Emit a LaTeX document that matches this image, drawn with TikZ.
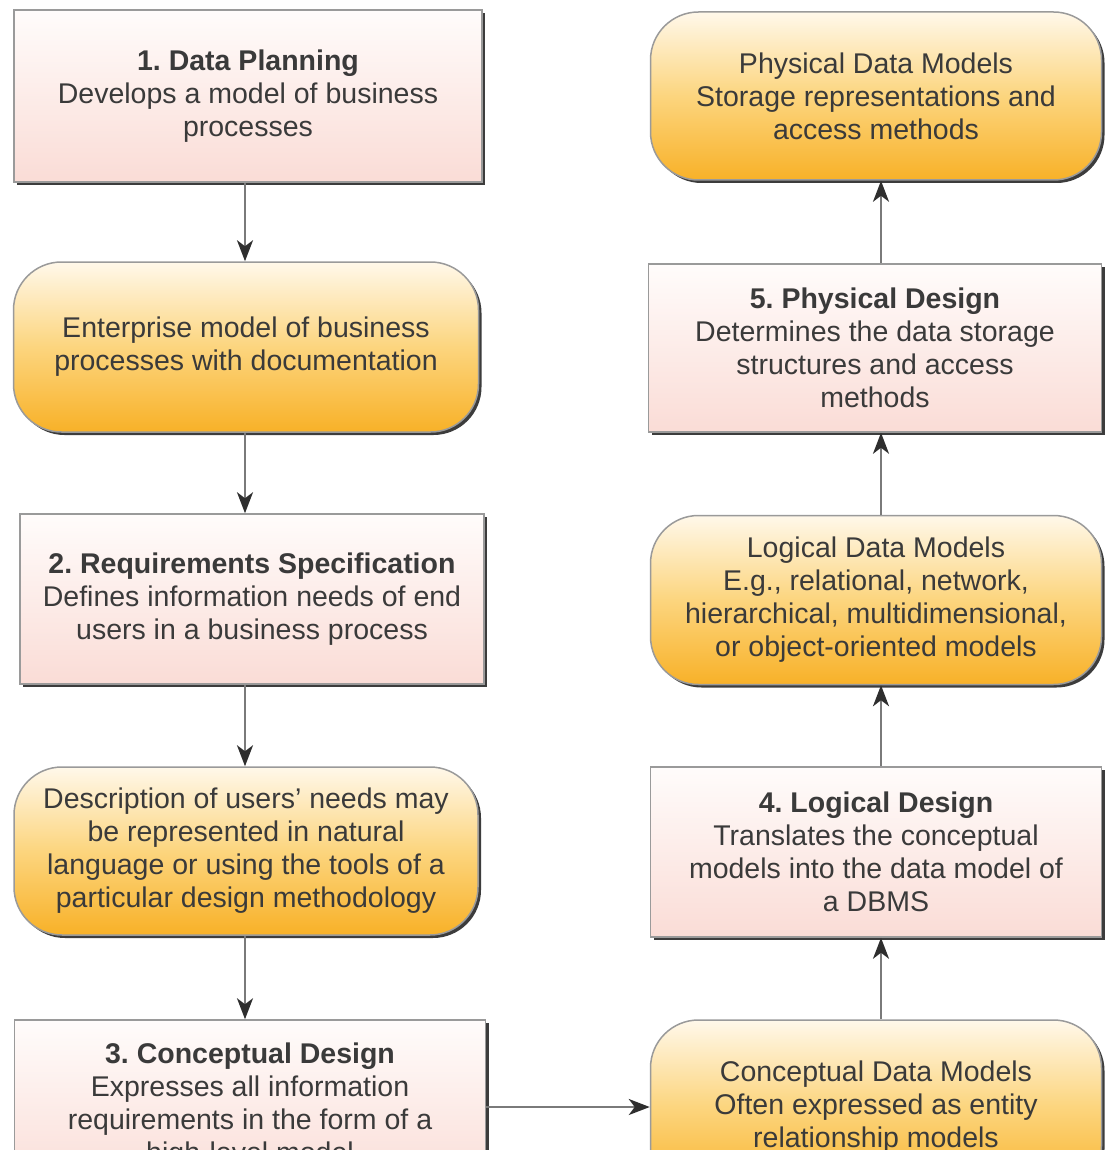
\documentclass[tikz,border=0pt]{standalone}
\usepackage{fontspec}
\setmainfont{Liberation Sans}
\usetikzlibrary{arrows.meta,shadows}
\frenchspacing

\definecolor{txt}{HTML}{3A3A3A}
\definecolor{boxline}{HTML}{9A9A9A}
\definecolor{shadowc}{HTML}{3C3C3C}
\definecolor{pinktop}{HTML}{FFFCFB}
\definecolor{pinkbot}{HTML}{FADCD6}
\definecolor{ambtop}{HTML}{FFF8EA}
\definecolor{ambmid}{HTML}{FCD57E}
\definecolor{ambbot}{HTML}{F8B128}
\definecolor{linec}{HTML}{7A7A7A}
\definecolor{tipc}{HTML}{2E2E2E}

\tikzset{
  stepbox/.style={draw=boxline, line width=1.5pt, top color=pinktop, bottom color=pinkbot,
    align=center, text=txt, inner sep=0pt,
    font=\fontsize{28.5}{33}\selectfont,
    drop shadow={shadow xshift=3pt, shadow yshift=-3pt, opacity=1, fill=shadowc}},
  resultbox/.style={stepbox, rounded corners=48pt,
    top color=ambtop, bottom color=ambbot, middle color=ambmid},
  conn/.style={draw=linec, line width=2.2pt,
    -{Stealth[length=21pt,width=16pt,inset=6pt,color=tipc]}}
}

\begin{document}
\begin{tikzpicture}[x=1pt,y=-1pt]
  \clip (0,0) rectangle (1105,1150);
  \fill[white] (0,0) rectangle (1105,1150);

  % left column: design steps and their outputs
  \node[stepbox, minimum width=468pt, minimum height=172pt] (p1) at (248,96)
    {\textbf{1. Data Planning}\\Develops a model of business\\processes};
  \node[resultbox, minimum width=465pt, minimum height=170pt] (m1) at (246,347)
    {Enterprise model of business\\processes with documentation};
  \node[stepbox, minimum width=464pt, minimum height=170pt] (p2) at (252,599)
    {\textbf{2. Requirements Specification}\\Defines information needs of end\\users in a business process};
  \node[resultbox, minimum width=464pt, minimum height=168pt] (m2) at (246,851)
    {Description of users’ needs may\\be represented in natural\\language or using the tools of a\\particular design methodology};
  \node[stepbox, minimum width=471pt, minimum height=172pt] (p3) at (250,1106)
    {\textbf{3. Conceptual Design}\\Expresses all information\\requirements in the form of a\\high-level model};

  % right column, read bottom to top
  \node[resultbox, minimum width=451pt, minimum height=174pt] (r3) at (876,1107)
    {Conceptual Data Models\\Often expressed as entity\\relationship models};
  \node[stepbox, minimum width=451pt, minimum height=170pt] (p4) at (876,852)
    {\textbf{4. Logical Design}\\Translates the conceptual\\models into the data model of\\a DBMS};
  \node[resultbox, minimum width=451pt, minimum height=169pt] (r2) at (876,600)
    {Logical Data Models\\E.g., relational, network,\\hierarchical, multidimensional,\\or object-oriented models};
  \node[stepbox, minimum width=453pt, minimum height=168pt] (p5) at (875,348)
    {\textbf{5. Physical Design}\\Determines the data storage\\structures and access\\methods};
  \node[resultbox, minimum width=451pt, minimum height=168pt] (r1) at (876,96)
    {Physical Data Models\\Storage representations and\\access methods};

  % connectors
  \draw[conn] ([xshift=-3pt]p1.south) -- ([xshift=-3pt]p1.south |- m1.north);
  \draw[conn] ([xshift=-1pt]m1.south) -- ([xshift=-1pt]m1.south |- p2.north);
  \draw[conn] ([xshift=-1pt]p2.south -| m1.south) -- ([xshift=-1pt]m1.south |- m2.north);
  \draw[conn] ([xshift=-1pt]m2.south) -- ([xshift=-1pt]m2.south |- p3.north);
  \draw[conn] (p3.east |- r3.west) -- (r3.west);
  \draw[conn] ([xshift=5pt]r3.north) -- ([xshift=5pt]r3.north |- p4.south);
  \draw[conn] ([xshift=5pt]p4.north) -- ([xshift=5pt]p4.north |- r2.south);
  \draw[conn] ([xshift=5pt]r2.north) -- ([xshift=5pt]r2.north |- p5.south);
  \draw[conn] ([xshift=5pt]p5.north -| r2.north) -- ([xshift=5pt]r2.north |- r1.south);
\end{tikzpicture}
\end{document}
